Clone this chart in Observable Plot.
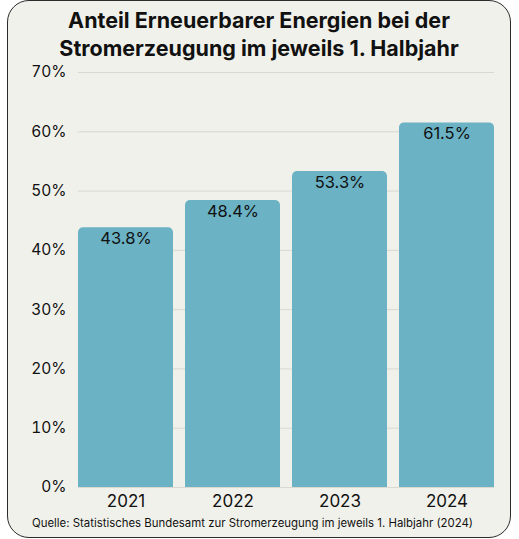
<!DOCTYPE html>
<html>
<head>
<meta charset="utf-8">
<script src="https://cdn.jsdelivr.net/npm/d3@7"></script>
<script src="https://cdn.jsdelivr.net/npm/@observablehq/plot@0.6"></script>
<style>
  body { margin: 0; background: #ffffff; font-family: Inter, "Open Sans", sans-serif; }
  #card {
    position: absolute; left: 7px; top: 0px;
    width: 504px; height: 538px; box-sizing: border-box;
    border: 1.5px solid #2b2b2b; border-radius: 22px;
    background: #f1f1eb; overflow: hidden;
  }
  #title {
    margin: 5px 0 0 0; text-align: center; font-weight: 700;
    font-size: 21.5px; line-height: 28px; color: #111;
  }
  #caption {
    position: absolute; left: 24px; top: 515px;
    font-size: 11.4px; color: #111;
  }
  #chart { position: absolute; left: 0; top: 59px; }
  #chart svg g[aria-label="x-axis tick label"] { font-size: 17px; }
</style>
</head>
<body>
<div id="card">
  <div id="title">Anteil Erneuerbarer Energien bei der<br>Stromerzeugung im jeweils 1. Halbjahr</div>
  <div id="chart"></div>
  <div id="caption">Quelle: Statistisches Bundesamt zur Stromerzeugung im jeweils 1. Halbjahr (2024)</div>
</div>
<script>
// Anteil erneuerbarer Energien, jeweils 1. Halbjahr
const jahre = ["2021", "2022", "2023", "2024"];
const anteil = [43.8, 48.4, 53.3, 61.5];
const yTicks = [0, 10, 20, 30, 40, 50, 60, 70];

const data = jahre.map((j, i) => ({jahr: j, wert: anteil[i]}));
const fmt = v => v.toFixed(1) + "%";

const chart = Plot.plot({
  width: 501,
  height: 457,
  marginTop: 12,
  marginBottom: 30,
  marginLeft: 70,
  marginRight: 15,
  style: {
    backgroundColor: "transparent",
    color: "#111",
    fontFamily: "Inter, 'Open Sans', sans-serif",
    fontSize: "15.5px",
    overflow: "visible"
  },
  x: {domain: jahre, paddingInner: 0.115, paddingOuter: 0, label: null, tickSize: 0, tickPadding: 7},
  y: {domain: [0, 70], ticks: yTicks, label: null, tickSize: 0, tickPadding: 12,
      tickFormat: d => d + "%"},
  marks: [
    Plot.ruleY(yTicks, {stroke: "#d9d9d1", strokeWidth: 1}),
    Plot.barY(data, {x: "jahr", y: "wert", fill: "#6ab2c4", rx: 5}),
    Plot.barY(data, {x: "jahr", y1: 0, y2: d => d.wert / 2, fill: "#6ab2c4"}),
    Plot.text(data, {x: "jahr", y: "wert", text: d => fmt(d.wert), dy: 11,
      fontSize: 16.5, fill: "#111"})
  ]
});
d3.select("#chart").append(() => chart);
</script>
</body>
</html>
